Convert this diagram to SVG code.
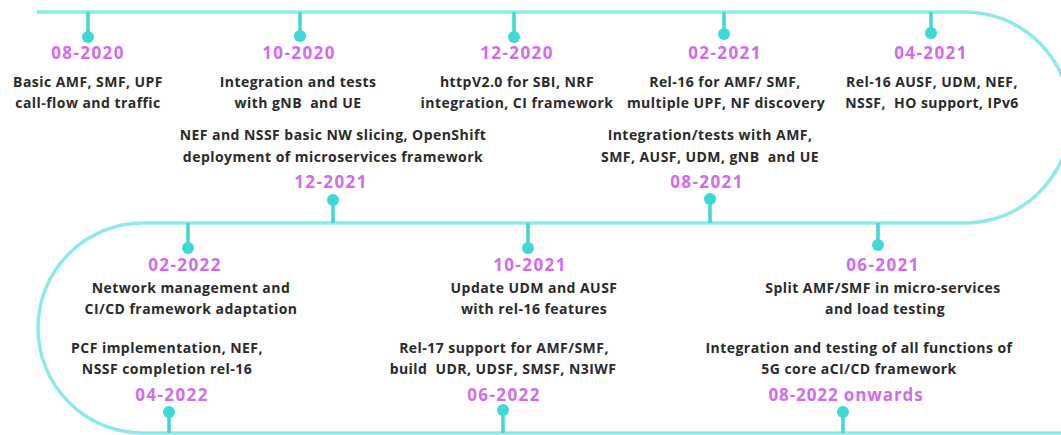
<svg xmlns="http://www.w3.org/2000/svg" width="1061" height="435" viewBox="0 0 1061 435">
<style>
.track{fill:none;stroke:#8eeaea;stroke-width:3.5}
.stem{stroke:#3fd8d5;stroke-width:3.5}
.dot{fill:#3fd8d5}
.date{font-family:"Open Sans",sans-serif;font-weight:700;font-size:17px;fill:#d06cec;letter-spacing:1.4px;text-anchor:middle}
.desc{font-family:"Open Sans",sans-serif;font-weight:700;font-size:14px;fill:#2a2a2a;letter-spacing:0.45px;text-anchor:middle;white-space:pre}
</style>
<rect width="1061" height="435" fill="#ffffff"/>
<g id="connectors">
<path class="track" d="M37 12 H965 A105.5 105.5 0 0 1 965 223 H143 A105 105 0 0 0 143 433 H1061"/>
</g>
<g id="n0820"><line class="stem" x1="88" y1="12" x2="88" y2="37"/><circle class="dot" cx="88" cy="37" r="6"/><text class="date" x="88" y="59">08-2020</text><text class="desc" x="88" y="87">Basic AMF, SMF, UPF</text><text class="desc" x="88" y="108">call-flow and traffic</text></g>
<g id="n1020"><line class="stem" x1="300" y1="12" x2="300" y2="36"/><circle class="dot" cx="300" cy="36" r="6"/><text class="date" x="299" y="59">10-2020</text><text class="desc" x="298" y="87">Integration and tests</text><text class="desc" x="298" y="108">with gNB  and UE</text></g>
<g id="n1220"><line class="stem" x1="514" y1="12" x2="514" y2="37"/><circle class="dot" cx="514" cy="37" r="6"/><text class="date" x="517" y="59">12-2020</text><text class="desc" x="517" y="87">httpV2.0 for SBI, NRF</text><text class="desc" x="517" y="108">integration, CI framework</text></g>
<g id="n0221"><line class="stem" x1="724" y1="12" x2="724" y2="34"/><circle class="dot" cx="724" cy="34" r="6"/><text class="date" x="725" y="59">02-2021</text><text class="desc" x="725" y="87">Rel-16 for AMF/ SMF,</text><text class="desc" x="726" y="108">multiple UPF, NF discovery</text></g>
<g id="n0421"><line class="stem" x1="931" y1="12" x2="931" y2="33"/><circle class="dot" cx="931" cy="33" r="6"/><text class="date" x="931" y="59">04-2021</text><text class="desc" x="932" y="87">Rel-16 AUSF, UDM, NEF,</text><text class="desc" x="932" y="108">NSSF,  HO support, IPv6</text></g>
<g id="n1221"><line class="stem" x1="333" y1="223" x2="333" y2="200"/><circle class="dot" cx="333" cy="200" r="6"/><text class="desc" x="333" y="140">NEF and NSSF basic NW slicing, OpenShift</text><text class="desc" x="333" y="162">deployment of microservices framework</text><text class="date" x="331" y="188">12-2021</text></g>
<g id="n0821"><line class="stem" x1="710" y1="223" x2="710" y2="199"/><circle class="dot" cx="710" cy="199" r="6"/><text class="desc" x="710" y="140">Integration/tests with AMF,</text><text class="desc" x="710" y="162">SMF, AUSF, UDM, gNB  and UE</text><text class="date" x="707" y="188">08-2021</text></g>
<g id="n0222"><line class="stem" x1="188" y1="223" x2="188" y2="248"/><circle class="dot" cx="188" cy="248" r="6"/><text class="date" x="185" y="271">02-2022</text><text class="desc" x="191" y="293">Network management and</text><text class="desc" x="191" y="314">CI/CD framework adaptation</text></g>
<g id="n1021"><line class="stem" x1="528" y1="223" x2="528" y2="248"/><circle class="dot" cx="528" cy="248" r="6"/><text class="date" x="530" y="271">10-2021</text><text class="desc" x="534" y="293">Update UDM and AUSF</text><text class="desc" x="534" y="314">with rel-16 features</text></g>
<g id="n0621"><line class="stem" x1="878" y1="223" x2="878" y2="245"/><circle class="dot" cx="878" cy="245" r="6"/><text class="date" x="883" y="271">06-2021</text><text class="desc" x="883" y="293">Split AMF/SMF in micro-services</text><text class="desc" x="885" y="314">and load testing</text></g>
<g id="n0422"><line class="stem" x1="169" y1="433" x2="169" y2="412"/><circle class="dot" cx="169" cy="412" r="6"/><text class="desc" x="167" y="353">PCF implementation, NEF,</text><text class="desc" x="167" y="374">NSSF completion rel-16</text><text class="date" x="172" y="401">04-2022</text></g>
<g id="n0622"><line class="stem" x1="503" y1="433" x2="503" y2="410"/><circle class="dot" cx="503" cy="410" r="6"/><text class="desc" x="504" y="353">Rel-17 support for AMF/SMF,</text><text class="desc" x="503" y="374">build  UDR, UDSF, SMSF, N3IWF</text><text class="date" x="504" y="401">06-2022</text></g>
<g id="n0822"><line class="stem" x1="843" y1="433" x2="843" y2="412"/><circle class="dot" cx="843" cy="412" r="6"/><text class="desc" x="859" y="353">Integration and testing of all functions of</text><text class="desc" x="859" y="374">5G core aCI/CD framework</text><text class="date" x="846" y="401" style="letter-spacing:0.9px">08-2022 onwards</text></g>
</svg>
